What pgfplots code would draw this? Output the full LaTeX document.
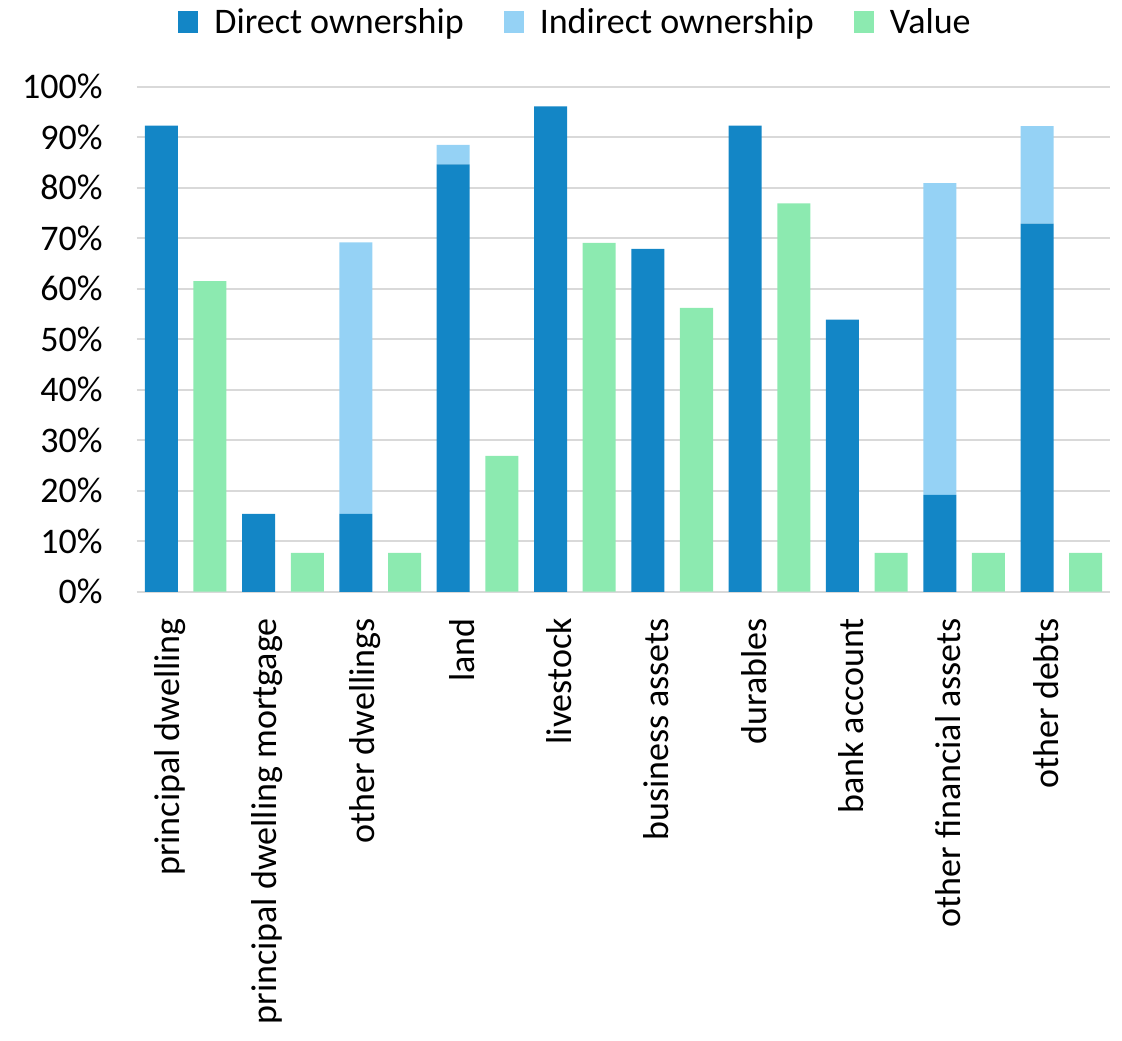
\documentclass[border=0pt]{standalone}
\usepackage{pgfplots}
\pgfplotsset{compat=1.18}
\usepackage{fontspec}
\setmainfont{Carlito}
\definecolor{dircol}{HTML}{1386C6}
\definecolor{indcol}{HTML}{95D2F5}
\definecolor{valcol}{HTML}{8CEAB0}
\definecolor{gridcol}{HTML}{D9D9D9}
\begin{document}
\begin{tikzpicture}
\pgfplotsset{
  common/.style={
    width=486.5pt, height=252.5pt, scale only axis,
    xmin=-0.5, xmax=9.5, ymin=0, ymax=100,
    bar width=16.5pt,
    clip=false,
  },
}
\begin{axis}[common,
  ybar stacked,
  font=\fontsize{18}{21}\selectfont,
  axis line style={draw=none},
  major tick length=0pt,
  ymajorgrids, grid style={draw=gridcol, line width=1.1pt},
  ytick={0,10,...,100},
  yticklabels={0\%,10\%,20\%,30\%,40\%,50\%,60\%,70\%,80\%,90\%,100\%},
  yticklabel style={inner sep=0pt, xshift=-17pt},
  xtick={-0.16,0.84,1.84,2.84,3.84,4.84,5.84,6.84,7.84,8.84},
  xticklabels={principal dwelling, principal dwelling mortgage, other dwellings, land, livestock, business assets, durables, bank account, other financial assets, other debts},
  xticklabel style={yshift=-13pt, rotate=90, anchor=east, inner sep=0pt},
  legend style={at={(rel axis cs:0.4517,1.128)}, anchor=center, draw=none, fill=none,
    legend columns=3, font=\fontsize{18}{21}\selectfont,
    /tikz/every odd column/.append style={column sep=6pt},
    /tikz/every even column/.append style={column sep=18pt}},
  legend cell align=left,
  legend image code/.code={\fill[#1,draw=none] (0pt,-5.5pt) rectangle (10pt,5.5pt);},
]
\addplot[fill=dircol, draw=none] coordinates {
  (-0.25,92.3) (0.75,15.4) (1.75,15.4) (2.75,84.6) (3.75,96.1)
  (4.75,67.9) (5.75,92.3) (6.75,53.9) (7.75,19.2) (8.75,72.9)};
\addlegendentry{Direct ownership}
\addplot[fill=indcol, draw=none] coordinates {
  (-0.25,0) (0.75,0) (1.75,53.8) (2.75,3.9) (3.75,0)
  (4.75,0) (5.75,0) (6.75,0) (7.75,61.7) (8.75,19.3)};
\addlegendentry{Indirect ownership}
\addlegendimage{fill=valcol, draw=none}
\addlegendentry{Value}
\path (rel axis cs:-0.1408,-0.8877) rectangle (rel axis cs:1.0123,1.1717);
\end{axis}
\begin{axis}[common, ybar, bar shift=0pt, hide axis]
\addplot[fill=valcol, draw=none] coordinates {
  (0.25,61.5) (1.25,7.7) (2.25,7.7) (3.25,26.9) (4.25,69.1)
  (5.25,56.2) (6.25,76.9) (7.25,7.7) (8.25,7.7) (9.25,7.7)};
\end{axis}
\end{tikzpicture}
\end{document}
